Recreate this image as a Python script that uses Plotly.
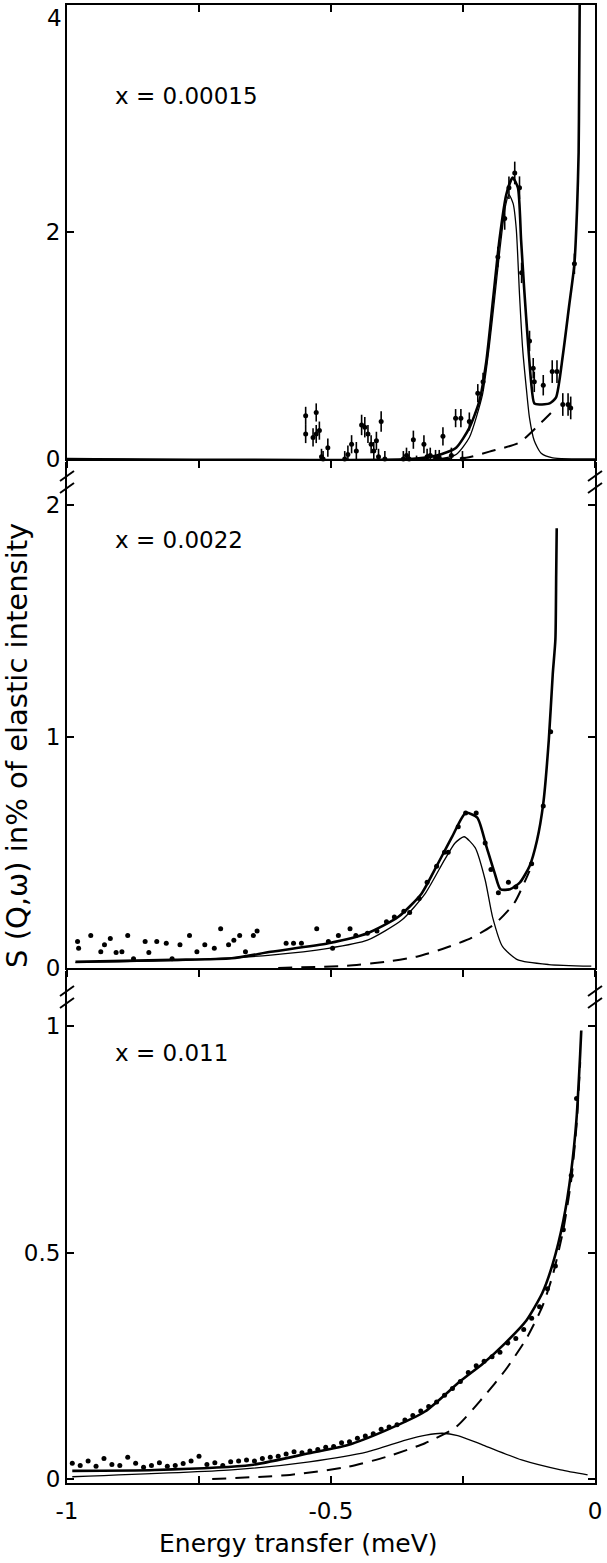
import plotly.graph_objects as go

# ---------------- data (energy transfer in meV, S in % of elastic) ----------------
# Panel 1: x = 0.00015
E_top_fit = [-1.0, -0.35, -0.30, -0.263, -0.238, -0.219, -0.206, -0.193, -0.181, -0.168, -0.156,
             -0.146, -0.140, -0.134, -0.127, -0.121, -0.115, -0.105, -0.086, -0.074, -0.061,
             -0.049, -0.039, -0.034, -0.031, -0.030, -0.029]
S_top_fit = [0.0, 0.0, 0.03, 0.10, 0.275, 0.51, 0.855, 1.41, 1.93, 2.33, 2.48,
             2.39, 1.93, 1.49, 1.03, 0.68, 0.49, 0.48, 0.49, 0.54, 0.91,
             1.35, 1.72, 2.2, 2.7, 3.3, 4.0]
E_top_peak = [-1.0, -0.30, -0.263, -0.238, -0.213, -0.20, -0.19, -0.18, -0.17, -0.163, -0.155,
              -0.149, -0.143, -0.137, -0.130, -0.124, -0.115, -0.102, -0.080, 0.0]
S_top_peak = [0.0, 0.0, 0.04, 0.19, 0.57, 1.0, 1.42, 1.85, 2.22, 2.33, 2.25,
              2.02, 1.45, 0.97, 0.62, 0.36, 0.16, 0.05, 0.01, 0.0]
E_top_bg = [-0.30, -0.244, -0.20, -0.143, -0.10, -0.074]
S_top_bg = [0.0, 0.01, 0.065, 0.145, 0.33, 0.45]
E_top_pts = [-0.548, -0.548, -0.542, -0.534, -0.528, -0.528, -0.522, -0.518, -0.515, -0.506,
             -0.500, -0.490, -0.480, -0.474, -0.468, -0.461, -0.452, -0.442, -0.436, -0.430,
             -0.424, -0.419, -0.414, -0.410, -0.405, -0.398, -0.389, -0.381, -0.380, -0.373,
             -0.363, -0.357, -0.352, -0.344, -0.338, -0.330, -0.324, -0.318, -0.312, -0.302,
             -0.295, -0.288, -0.280, -0.272, -0.264, -0.254, -0.251, -0.238, -0.222, -0.212,
             -0.184, -0.171, -0.163, -0.152, -0.143, -0.139, -0.124, -0.117, -0.115, -0.098,
             -0.081, -0.072, -0.061, -0.051, -0.046, -0.039]
S_top_pts = [0.38, 0.22, -0.10, 0.19, 0.41, 0.22, 0.25, 0.02, 0.0, 0.10,
             -0.13, -0.16, -0.17, 0.0, 0.04, 0.13, 0.07, 0.30, 0.28, 0.22,
             0.13, 0.07, 0.16, 0.02, 0.33, 0.0, -0.10, -0.14, -0.30, -0.14,
             0.0, 0.03, 0.0, 0.17, -0.04, -0.12, 0.13, 0.02, 0.03, 0.01,
             0.01, 0.20, -0.07, 0.03, 0.36, 0.36, 0.0, 0.33, 0.58, 0.68,
             1.78, 2.12, 2.39, 2.52, 2.39, 1.64, 1.04, 0.80, 0.68, 0.65,
             0.77, 0.77, 0.48, 0.48, 0.45, 1.72]
Err_top_pts = [0.08, 0.08, 0.07, 0.08, 0.08, 0.08, 0.08, 0.07, 0.07, 0.08,
               0.07, 0.07, 0.07, 0.07, 0.08, 0.08, 0.08, 0.09, 0.09, 0.08,
               0.08, 0.08, 0.08, 0.07, 0.09, 0.07, 0.08, 0.08, 0.07, 0.08,
               0.07, 0.07, 0.07, 0.08, 0.07, 0.08, 0.08, 0.07, 0.07, 0.07,
               0.07, 0.08, 0.07, 0.07, 0.08, 0.08, 0.07, 0.08, 0.08, 0.08,
               0.09, 0.10, 0.10, 0.10, 0.10, 0.09, 0.09, 0.09, 0.09, 0.09,
               0.10, 0.10, 0.10, 0.10, 0.10, 0.09]

# Panel 2: x = 0.0022
E_mid_fit = [-0.984, -0.80, -0.688, -0.614, -0.505, -0.431, -0.373, -0.329, -0.300, -0.270, -0.245,
             -0.223, -0.205, -0.190, -0.179, -0.161, -0.142, -0.124, -0.110, -0.098, -0.0875,
             -0.080, -0.075, -0.0735, -0.0725]
S_mid_fit = [0.027, 0.035, 0.042, 0.07, 0.107, 0.15, 0.22, 0.32, 0.44, 0.57, 0.67,
             0.65, 0.52, 0.41, 0.34, 0.34, 0.37, 0.44, 0.55, 0.71, 0.985,
             1.27, 1.42, 1.70, 1.90]
E_mid_peak = [-0.984, -0.761, -0.614, -0.505, -0.431, -0.366, -0.322, -0.285, -0.265, -0.248,
              -0.227, -0.208, -0.194, -0.175, -0.146, -0.0875, -0.007]
S_mid_peak = [0.023, 0.035, 0.056, 0.085, 0.12, 0.207, 0.32, 0.467, 0.54, 0.567,
              0.52, 0.38, 0.22, 0.092, 0.035, 0.015, 0.008]
E_mid_bg = [-0.60, -0.47, -0.395, -0.336, -0.285, -0.234, -0.19, -0.153, -0.124]
S_mid_bg = [0.0, 0.01, 0.027, 0.05, 0.085, 0.13, 0.19, 0.28, 0.42]
E_mid_pts = [-0.980, -0.978, -0.969, -0.955, -0.936, -0.929, -0.918, -0.907, -0.896, -0.885,
             -0.874, -0.852, -0.845, -0.830, -0.812, -0.801, -0.786, -0.768, -0.754, -0.739,
             -0.721, -0.709, -0.694, -0.684, -0.673, -0.662, -0.647, -0.640, -0.585, -0.571,
             -0.556, -0.527, -0.505, -0.497, -0.486, -0.464, -0.453, -0.431, -0.413, -0.395,
             -0.380, -0.362, -0.351, -0.333, -0.318, -0.300, -0.285, -0.278, -0.259, -0.245,
             -0.225, -0.208, -0.197, -0.183, -0.164, -0.150, -0.120, -0.098, -0.084]
S_mid_pts = [0.114, 0.085, -0.052, 0.14, 0.07, 0.10, 0.127, 0.067, 0.07, 0.14,
             0.04, 0.114, 0.067, 0.114, 0.107, 0.04, 0.10, 0.14, 0.07, 0.10,
             0.085, 0.17, 0.10, 0.12, 0.14, 0.07, 0.14, 0.16, 0.107, 0.107,
             0.107, 0.17, 0.114, 0.085, 0.14, 0.17, 0.14, 0.15, 0.16, 0.20,
             0.22, 0.245, 0.24, 0.30, 0.37, 0.44, 0.50, 0.50, 0.61, 0.67,
             0.67, 0.54, 0.425, 0.325, 0.37, 0.35, 0.45, 0.70, 1.02]

# Panel 3: x = 0.011
E_bot_fit = [-0.99, -0.834, -0.651, -0.541, -0.468, -0.395, -0.322, -0.256, -0.212, -0.17,
             -0.13, -0.10, -0.08, -0.06, -0.045, -0.035, -0.028, -0.026]
S_bot_fit = [0.018, 0.02, 0.031, 0.057, 0.075, 0.108, 0.149, 0.215, 0.255, 0.30,
             0.35, 0.41, 0.475, 0.57, 0.68, 0.795, 0.94, 0.99]
E_bot_peak = [-0.99, -0.688, -0.541, -0.431, -0.359, -0.32, -0.289, -0.26, -0.212, -0.139,
              -0.065, -0.014]
S_bot_peak = [0.005, 0.02, 0.038, 0.06, 0.086, 0.097, 0.101, 0.096, 0.075, 0.042,
              0.02, 0.009]
E_bot_bg = [-0.725, -0.578, -0.468, -0.395, -0.322, -0.263, -0.212, -0.17, -0.13, -0.10,
            -0.08, -0.06, -0.045, -0.035, -0.028]
S_bot_bg = [0.0, 0.009, 0.027, 0.049, 0.079, 0.115, 0.18, 0.24, 0.31, 0.38,
            0.45, 0.55, 0.66, 0.78, 0.92]
E_bot_pts = [-0.99, -0.975, -0.96, -0.945, -0.93, -0.915, -0.90, -0.885, -0.87, -0.855,
             -0.84, -0.825, -0.81, -0.795, -0.78, -0.765, -0.75, -0.735, -0.72, -0.705,
             -0.69, -0.675, -0.66, -0.645, -0.63, -0.615, -0.60, -0.585, -0.57, -0.555,
             -0.54, -0.525, -0.51, -0.495, -0.48, -0.465, -0.45, -0.435, -0.42, -0.405,
             -0.39, -0.375, -0.36, -0.345, -0.33, -0.315, -0.30, -0.285, -0.27, -0.255,
             -0.24, -0.225, -0.21, -0.195, -0.18, -0.165, -0.15, -0.135, -0.12, -0.105,
             -0.09, -0.075, -0.06, -0.045, -0.035]
S_bot_pts = [0.035, 0.03, 0.04, 0.028, 0.045, 0.032, 0.03, 0.048, 0.035, 0.026,
             0.03, 0.036, 0.028, 0.03, 0.034, 0.04, 0.05, 0.032, 0.036, 0.03,
             0.038, 0.04, 0.042, 0.04, 0.045, 0.048, 0.05, 0.055, 0.06, 0.058,
             0.062, 0.065, 0.07, 0.072, 0.08, 0.082, 0.09, 0.095, 0.10, 0.11,
             0.115, 0.12, 0.13, 0.14, 0.15, 0.16, 0.17, 0.185, 0.20, 0.215,
             0.235, 0.25, 0.26, 0.27, 0.28, 0.30, 0.31, 0.33, 0.355, 0.38,
             0.42, 0.47, 0.55, 0.67, 0.84]

# axis ticks / texts
x_tickvals = [-1, -0.75, -0.5, -0.25, 0]
x_ticktext = ['-1', '', '-0.5', '', '0']
labels = ['x = 0.00015', 'x = 0.0022', 'x = 0.011']
label_y = [3.2, 1.85, 0.94]

# ---------------- figure ----------------
W, H = 607, 1563
ML, MR, MT, MB = 67, 12, 5, 80
plot_h = H - MT - MB
plot_w = W - ML - MR


def pyfrac(py):
    return (H - MB - py) / plot_h


top_dom = [pyfrac(459), 1.0]
mid_dom = [pyfrac(968), pyfrac(462)]
bot_dom = [0.0, pyfrac(971)]

FONT = 'DejaVu Sans'
fig = go.Figure()


def add_panel(xa, ya, Ef, Sf, Ep, Sp, Eb, Sb, Ex, Sx, err=None):
    fig.add_trace(go.Scatter(x=Eb, y=Sb, xaxis=xa, yaxis=ya, mode='lines',
                             line=dict(color='black', width=2, dash='14px,9px', shape='spline', smoothing=0.6),
                             hoverinfo='skip', showlegend=False))
    fig.add_trace(go.Scatter(x=Ep, y=Sp, xaxis=xa, yaxis=ya, mode='lines',
                             line=dict(color='black', width=1.3, shape='spline', smoothing=0.6),
                             hoverinfo='skip', showlegend=False))
    fig.add_trace(go.Scatter(x=Ef, y=Sf, xaxis=xa, yaxis=ya, mode='lines',
                             line=dict(color='black', width=2.6, shape='spline', smoothing=0.6),
                             hoverinfo='skip', showlegend=False))
    ey = dict(type='data', array=err, visible=True, color='black', thickness=1.6, width=0) if err else None
    fig.add_trace(go.Scatter(x=Ex, y=Sx, xaxis=xa, yaxis=ya, mode='markers',
                             marker=dict(color='black', size=5), error_y=ey, cliponaxis=False,
                             hoverinfo='skip', showlegend=False))


add_panel('x3', 'y', E_top_fit, S_top_fit, E_top_peak, S_top_peak, E_top_bg, S_top_bg,
          E_top_pts, S_top_pts, Err_top_pts)
add_panel('x2', 'y2', E_mid_fit, S_mid_fit, E_mid_peak, S_mid_peak, E_mid_bg, S_mid_bg,
          E_mid_pts, S_mid_pts)
add_panel('x', 'y3', E_bot_fit, S_bot_fit, E_bot_peak, S_bot_peak, E_bot_bg, S_bot_bg,
          E_bot_pts, S_bot_pts)
# empty trace to realise the top-frame axis of panel 1
fig.add_trace(go.Scatter(x=[None], y=[None], xaxis='x4', yaxis='y', mode='lines',
                         hoverinfo='skip', showlegend=False))

tickfont = dict(family=FONT, size=23, color='black')
common_x = dict(range=[-1, 0], showgrid=False, zeroline=False, showline=True, linecolor='black',
                linewidth=2, tickcolor='black', tickwidth=1.5, ticklen=7, tickfont=tickfont,
                tickvals=x_tickvals, ticktext=x_ticktext)
common_y = dict(showgrid=False, zeroline=False, showline=True, linecolor='black', linewidth=2,
                tickcolor='black', tickwidth=1.5, ticklen=7, ticks='inside', mirror='ticks',
                tickfont=tickfont)

fig.update_layout(
    width=W, height=H, margin=dict(l=ML, r=MR, t=MT, b=MB),
    paper_bgcolor='white', plot_bgcolor='white', showlegend=False,
    xaxis=dict(common_x, anchor='y3', ticks='inside', ticklabelstandoff=6),
    xaxis2=dict(common_x, anchor='y2', ticks='outside', showticklabels=False),
    xaxis3=dict(common_x, anchor='y', ticks='outside', showticklabels=False),
    xaxis4=dict(common_x, anchor='y', overlaying='x3', side='top', ticks='inside',
                showticklabels=False),
    yaxis=dict(common_y, domain=top_dom, range=[0, 4], tickvals=[0, 2, 4], anchor='x3'),
    yaxis2=dict(common_y, domain=mid_dom, range=[0, (968 - 462) / 231.5], tickvals=[0, 1, 2],
                anchor='x2'),
    yaxis3=dict(common_y, domain=bot_dom, range=[(1479 - 1483) / 453, (1479 - 971) / 453],
                tickvals=[0, 0.5, 1], ticktext=['0', '0.5', '1'], anchor='x'),
)

# tick label "4" at the top corner (sits just under the frame, as in the original)
fig.add_annotation(x=0, y=4, xref='paper', yref='y', text='4', showarrow=False,
                   xanchor='right', yanchor='top', xshift=-3, yshift=2, font=tickfont)

# panel labels
for (xa, ya), txt, ly in zip([('x3', 'y'), ('x2', 'y2'), ('x', 'y3')], labels, label_y):
    fig.add_annotation(x=-0.912, y=ly, xref=xa, yref=ya, text=txt, showarrow=False,
                       xanchor='left', yanchor='middle',
                       font=dict(family=FONT, size=23, color='black'))

# axis titles
fig.add_annotation(x=(17 - ML) / plot_w, y=pyfrac(746), xref='paper', yref='paper',
                   text='S (Q,ω) in% of elastic intensity', textangle=-90, showarrow=False,
                   xanchor='center', yanchor='middle', font=dict(family=FONT, size=29, color='black'))
fig.add_annotation(x=(298 - ML) / plot_w, y=pyfrac(1543), xref='paper', yref='paper',
                   text='Energy transfer (meV)', showarrow=False,
                   xanchor='center', yanchor='middle', font=dict(family=FONT, size=25, color='black'))

# axis-break marks ("//") on both vertical axes
for yb in (pyfrac(482), pyfrac(997)):
    for xb in (0, 1):
        for off in (-6, 6):
            fig.add_shape(type='line', xref='paper', yref='paper', xsizemode='pixel',
                          ysizemode='pixel', xanchor=xb, yanchor=yb,
                          x0=-7, x1=7, y0=off - 5, y1=off + 5,
                          line=dict(color='black', width=2))

# remove the browser's default 8px body margin so the figure fills the window exactly
fig.write_html('out.html', config={'displayModeBar': False},
               post_script="document.body.style.margin='0';document.body.style.padding='0';")
